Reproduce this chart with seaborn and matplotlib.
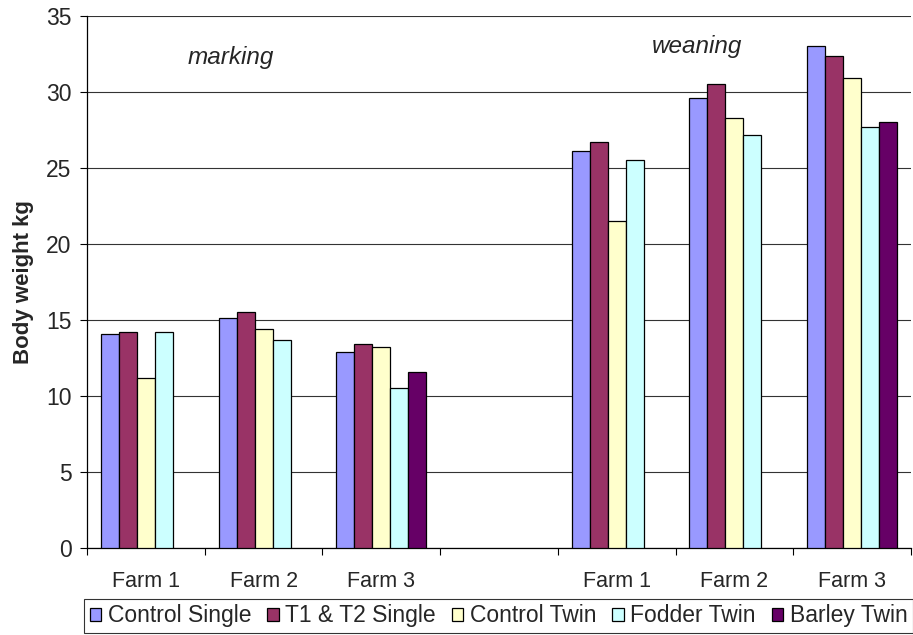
import numpy as np
import pandas as pd
import matplotlib
matplotlib.use("Agg")
import matplotlib.pyplot as plt
import seaborn as sns

# Group slots along the x axis (slot 3 is a spacer between the two stages)
slot_labels = ["Farm 1", "Farm 2", "Farm 3", "", "Farm 1", "Farm 2", "Farm 3"]
series = ["Control Single", "T1 & T2 Single", "Control Twin", "Fodder Twin", "Barley Twin"]

control_single = [14.1, 15.1, 12.9, np.nan, 26.1, 29.6, 33.0]
t1_t2_single = [14.2, 15.5, 13.4, np.nan, 26.7, 30.5, 32.4]
control_twin = [11.2, 14.4, 13.2, np.nan, 21.5, 28.3, 30.9]
fodder_twin = [14.2, 13.7, 10.5, np.nan, 25.5, 27.2, 27.7]
barley_twin = [np.nan, np.nan, 11.6, np.nan, np.nan, np.nan, 28.0]

colors = ["#9999FF", "#993366", "#FFFFCC", "#CCFFFF", "#660066"]

rows = []
for name, vals in zip(series, [control_single, t1_t2_single, control_twin,
                               fodder_twin, barley_twin]):
    for slot, v in enumerate(vals):
        if not np.isnan(v):
            rows.append({"slot": slot, "group": name, "weight": v})
df = pd.DataFrame(rows)

sns.set_style("white")
plt.rcParams["font.family"] = ["Liberation Sans", "DejaVu Sans"]

fig = plt.figure(figsize=(9.13, 6.35), dpi=100)
ax = fig.add_axes([87 / 913, 1 - 548 / 635, (911 - 87) / 913, (548 - 16) / 635])

sns.barplot(data=df, x="slot", y="weight", hue="group",
            order=list(range(len(slot_labels))), hue_order=series,
            palette=colors, width=0.765, edgecolor="black", linewidth=0.9,
            saturation=1, errorbar=None, ax=ax, zorder=3)

ax.set_xlim(-0.5, len(slot_labels) - 0.5)
ax.set_ylim(0, 35)
ax.set_yticks(np.arange(0, 36, 5))
ax.grid(axis="y", color="#333333", linewidth=0.8, zorder=0)
ax.set_axisbelow(True)

# boundary ticks between categories, labels centred in each slot
ax.set_xticks(np.arange(-0.5, len(slot_labels), 1))
ax.set_xticklabels([])
ax.set_xticks(np.arange(len(slot_labels)), minor=True)
ax.set_xticklabels(slot_labels, minor=True, fontsize=15.5)
ax.tick_params(axis="x", which="major", length=5, width=0.8, color="black", direction="out", bottom=True)
ax.tick_params(axis="x", which="minor", length=0, pad=16.5)
ax.tick_params(axis="y", length=5, width=0.8, color="black", direction="out", left=True, labelsize=16.5, pad=6)

for side in ["top", "right"]:
    ax.spines[side].set_visible(False)
for side in ["left", "bottom"]:
    ax.spines[side].set_color("black")
    ax.spines[side].set_linewidth(0.9)

ax.set_xlabel("")
ax.set_ylabel("Body weight kg", fontsize=16, fontweight="bold", labelpad=9)

ax.text(0.72, 32.3, "marking", fontsize=17.5, fontstyle="italic", ha="center", va="center")
ax.text(4.68, 33.0, "weaning", fontsize=17.5, fontstyle="italic", ha="center", va="center")

handles, labels = ax.get_legend_handles_labels()
ax.legend_.remove()
leg = fig.legend(handles, labels, loc="lower left", bbox_to_anchor=(84 / 913, 2 / 635),
                 ncol=5, fontsize=16.5, frameon=True, fancybox=False,
                 handlelength=0.5, handleheight=0.5, handletextpad=0.3,
                 columnspacing=0.68, borderpad=0.25, borderaxespad=0.0)
leg.get_frame().set_edgecolor("black")
leg.get_frame().set_linewidth(0.8)
for h in leg.legend_handles:
    h.set_edgecolor("black")
    h.set_linewidth(0.9)

fig.savefig("out.png", dpi=100)
